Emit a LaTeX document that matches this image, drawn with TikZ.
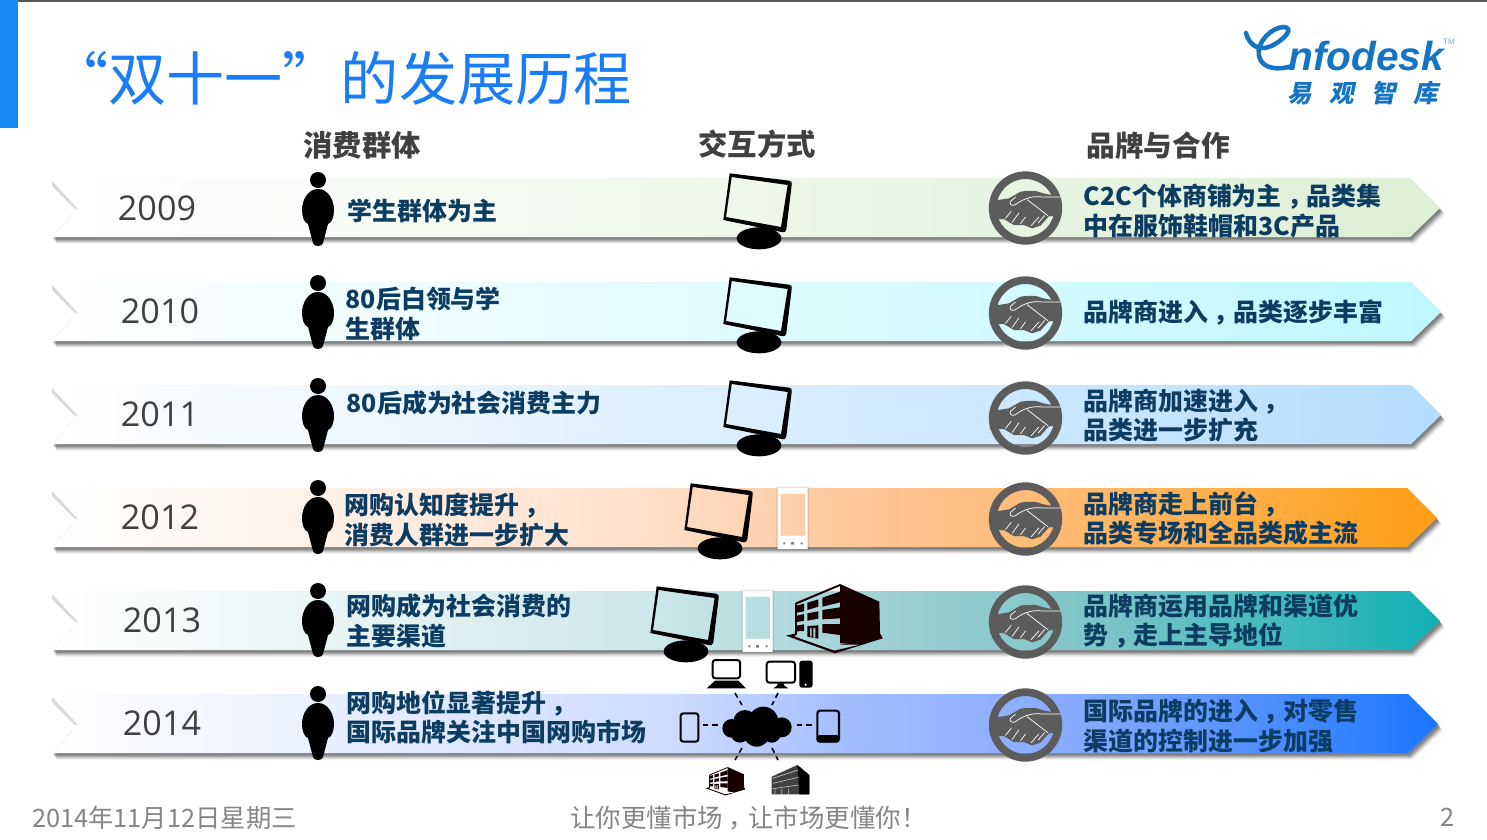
\documentclass[tikz,border=0pt]{standalone}
\usepackage{fontspec}
\setmainfont{Noto Sans CJK SC}
\newfontfamily\yearfont{Open Sans}
\newfontfamily\logofont{Liberation Sans}
\newfontfamily\cjkslant[FakeSlant=0.2]{Noto Sans CJK SC}
\definecolor{navy}{HTML}{0C3C62}
\definecolor{headgray}{HTML}{404040}
\definecolor{footgray}{HTML}{858585}
\definecolor{yeargray}{HTML}{404040}
\definecolor{ringgray}{HTML}{5C5C5C}
\definecolor{logoblue}{HTML}{1674C4}
\definecolor{titleblue}{HTML}{1A7DF5}
\pgfdeclarehorizontalshading{s2009}{100bp}{rgb(0bp)=(1,1,1);rgb(25bp)=(1,1,1);rgb(75bp)=(.867,.937,.835);rgb(100bp)=(.867,.937,.835)}
\pgfdeclarehorizontalshading{s2010}{100bp}{rgb(0bp)=(1,1,1);rgb(25bp)=(1,1,1);rgb(75bp)=(.75,.97,1);rgb(100bp)=(.75,.97,1)}
\pgfdeclarehorizontalshading{s2011}{100bp}{rgb(0bp)=(1,1,1);rgb(25bp)=(1,1,1);rgb(75bp)=(.71,.867,1);rgb(100bp)=(.71,.867,1)}
\pgfdeclarehorizontalshading{s2012}{100bp}{rgb(0bp)=(1,1,1);rgb(25bp)=(1,1,1);rgb(46.2bp)=(1,.88,.80);rgb(55.5bp)=(.99,.765,.57);rgb(62.8bp)=(1,.72,.41);rgb(75bp)=(1,.62,.08);rgb(100bp)=(1,.62,.08)}
\pgfdeclarehorizontalshading{s2013}{100bp}{rgb(0bp)=(1,1,1);rgb(25bp)=(1,1,1);rgb(46.2bp)=(.81,.91,.92);rgb(55.5bp)=(.61,.81,.83);rgb(62.8bp)=(.49,.77,.78);rgb(75bp)=(.06,.69,.71);rgb(100bp)=(.06,.69,.71)}
\pgfdeclarehorizontalshading{s2014}{100bp}{rgb(0bp)=(1,1,1);rgb(25bp)=(1,1,1);rgb(47.6bp)=(.80,.86,1);rgb(53.7bp)=(.64,.74,1);rgb(62.3bp)=(.52,.66,1);rgb(75bp)=(.10,.46,1);rgb(100bp)=(.10,.46,1)}
\newcommand\cc{\mbox{\kern.22em，\kern-.22em}}
\tikzset{
  lab/.style={anchor=west,inner sep=0pt,align=left,text=navy,font=\fontsize{18.7}{22}\selectfont\bfseries},
  head/.style={anchor=center,inner sep=0pt,text=headgray,font=\fontsize{22}{26}\selectfont\bfseries},
  year/.style={anchor=center,inner sep=0pt,text=yeargray,font=\yearfont\fontsize{25.6}{30}\selectfont},
  foot/.style={anchor=center,inner sep=0pt,text=footgray,font=\fontsize{19}{22}\selectfont},
  dashlink/.style={line width=1.2pt,dash pattern=on 4pt off 3pt,black},
  devline/.style={line width=1.5pt,black,rounded corners=2pt}
}
\newcommand\ribbon[3]{%row top, tip x, shading
  \foreach \i/\op in {7/.04,6/.07,5/.10,4/.13,3/.15,2/.12}{
    \fill[black,opacity=\op,shift={(\i*.7,\i)}] (52,#1) -- (#2-30,#1) -- (#2,#1+30) -- (#2-30,#1+59) -- (52,#1+59) -- cycle;}
  \fill[white] (40,#1-2) -- (52,#1-2) -- (78,#1+30) -- (52,#1+59) -- (40,#1+59) -- cycle;
  \fill[black!15] (52,#1+3) -- (77,#1+30) -- (75,#1+31) -- (52,#1+8) -- cycle;
  \shade[shading=#3] (52,#1) -- (#2-30,#1) -- (#2,#1+30) -- (#2-30,#1+59) -- (52,#1+59) -- (78,#1+30) -- cycle;
}
\newcommand\person[1]{%
  \begin{scope}[shift={(318,#1)}]
    \fill[black] (0,0) circle[radius=8];
    \fill[black] (0,9) .. controls (10,9) and (16,20) .. (16,30) .. controls (16,36) and (14,43) .. (10,44) -- (5,63) .. controls (4,67) and (-4,67) .. (-5,63) -- (-10,44) .. controls (-14,43) and (-16,36) .. (-16,30) .. controls (-16,20) and (-10,9) .. (0,9) -- cycle;
  \end{scope}}
\newcommand\monitor[2]{%x offset, row top
  \begin{scope}[shift={(#1,#2)},x=.25pt,y=-.25pt,shift={(0,-54)}]
    \fill[black] (240,235) ellipse[x radius=67,y radius=33];
    \fill[black,even odd rule] (152,40) -- (330,62) .. controls (338,63) and (339,68) .. (338,75) -- (322,208) .. controls (321,216) and (315,219) .. (308,216) -- (133,180) -- cycle (158,51) -- (326,75) -- (306,201) -- (141,171) -- cycle;
  \end{scope}}
\newcommand\phone[2]{%x offset, row top
  \begin{scope}[shift={(#1,#2)},x=.25pt,y=-.25pt,shift={(0,-54)}]
    \fill[black,opacity=.10,even odd rule] (409,50) rectangle (507,241) (422,71) rectangle (495,197);
    \fill[white,even odd rule] (413,54) rectangle (503,237) (422,71) rectangle (495,197);
    \draw[white,line width=.5pt,dash pattern=on .8pt off .8pt] (422,69) -- (495,69) (422,199) -- (495,199);
    \fill[gray] (430,217) rectangle (436,223) (453,216) rectangle (462,224) (482,217) rectangle (488,223);
  \end{scope}}
\newcommand\bldg[4]{%x, y, unit, colour
  \begin{scope}[shift={(#1,#2)},x=#3,y=-#3,shift={(-438,-342)}]
    \fill[#4] (600,342) -- (718,395) -- (720,490) -- (728,505) -- (655,520) -- (600,520) -- cycle;
    \fill[#4,even odd rule] (438,497) -- (585,550) -- (728,505) -- (722,494) -- (600,524) -- (660,524) -- (583,542) -- (465,500) -- (468,490) -- cycle;
    \fill[#4] (468,397) -- (600,342) -- (600,348) -- (470,403) -- cycle;
    \fill[#4] (470,407) -- (492,401) -- (492,424) -- (470,428) -- cycle
              (502,398) -- (535,388) -- (535,410) -- (502,420) -- cycle
              (547,383) -- (600,365) -- (600,397) -- (547,410) -- cycle
              (470,437) -- (492,432) -- (492,452) -- (470,456) -- cycle
              (502,430) -- (535,424) -- (535,446) -- (502,452) -- cycle
              (547,420) -- (600,412) -- (600,445) -- (547,448) -- cycle
              (470,467) -- (492,463) -- (492,483) -- (470,484) -- cycle
              (547,462) -- (600,462) -- (600,495) -- (547,488) -- cycle;
    \fill[#4,even odd rule] (502,468) -- (535,466) -- (535,506) -- (502,500) -- cycle (510,474) -- (515,474) -- (515,500) -- (510,500) -- cycle (520,474) -- (526,474) -- (526,503) -- (520,503) -- cycle;
    \fill[#4] (466,400) rectangle (470,495);
  \end{scope}}
\newcommand\handshake[1]{%row centre y
  \begin{scope}[shift={(1025.5,#1)},x=.25pt,y=-.25pt,shift={(-165,-145)}]
    \fill[ringgray,even odd rule] (165,145) circle[radius=110] (165,145) circle[radius=87];
    \fill[ringgray] (58,125) -- (115,116) -- (150,96) .. controls (175,92) and (200,92) .. (215,100) -- (272,112) -- (272,168) -- (235,170) -- (210,198) -- (185,206) -- (160,196) -- (130,196) -- (100,178) -- (58,178) -- cycle;
    \draw[white,line width=.55pt,line join=round] (272,112) -- (215,112) .. controls (190,108) and (160,115) .. (135,135) .. controls (125,140) and (115,135) .. (120,125) -- (135,112);
    \draw[white,line width=.55pt,line cap=round] (170,120) -- (232,168) (105,176) -- (122,155) (125,188) -- (145,160) (150,192) -- (165,172) (182,198) -- (205,172) (203,190) -- (222,168);
  \end{scope}}
\begin{document}
\begin{tikzpicture}[x=.75pt,y=-.75pt]
\useasboundingbox (0,0) rectangle (1487,839);
\fill[white] (0,0) rectangle (1487,839);
\fill[black!65] (0,0) rectangle (1487,1.5);
\fill[titleblue!90!cyan] (0,0) rectangle (18,128);
\node[anchor=west,inner sep=0pt,text=titleblue,font=\fontsize{43.6}{50}\selectfont] (title) at (50,78) {“双十一”的发展历程};
% logo
\draw[logoblue,line width=3.4pt,line cap=round] (1246,33) .. controls (1250,48) and (1262,52) .. (1275,44) .. controls (1287,37) and (1293,28) .. (1284,27) .. controls (1272,27) and (1256,42) .. (1259,56) .. controls (1262,70) and (1280,70) .. (1292,66);
\node[anchor=base west,inner sep=0pt,text=logoblue,font=\logofont\fontsize{30.4}{34}\selectfont\bfseries\itshape] (logotext) at (1288,70) {nfodesk};
\node[anchor=center,inner sep=0pt,text=logoblue!60!white,font=\logofont\fontsize{6}{6}\selectfont] (tm) at (1449,42) {TM};
\node[anchor=west,inner sep=0pt,text=logoblue,font=\cjkslant\fontsize{18.5}{22}\selectfont\bfseries] (logocn) at (1287,93) {易\hspace{13pt}观\hspace{13pt}智\hspace{13pt}库};
% headers
\node[head] (h1) at (362,145) {消费群体};
\node[head] (h2) at (757,144) {交互方式};
\node[head,font=\fontsize{21.5}{26}\selectfont\bfseries] (h3) at (1158,145.5) {品牌与合作};
% ribbons
\ribbon{178}{1440}{s2009}
\ribbon{282}{1441}{s2010}
\ribbon{385}{1441}{s2011}
\ribbon{488}{1437}{s2012}
\ribbon{591}{1440}{s2013}
\ribbon{694}{1438}{s2014}
% years
\node[year] (y09) at (157,208) {2009};
\node[year] (y10) at (160,311) {2010};
\node[year] (y11) at (160,414) {2011};
\node[year] (y12) at (160,517) {2012};
\node[year] (y13) at (162,620) {2013};
\node[year] (y14) at (162,723) {2014};
% persons
\foreach \y in {180,283,386,488,591,694}{\person{\y}}
% left labels
\node[lab] (a09) at (347.5,211) {学生群体为主};
\node[lab] (a10) at (345.5,314) {80后白领与学\\生群体};
\node[lab] (a11) at (346.5,403) {80后成为社会消费主力};
\node[lab] (a12) at (344.5,520) {网购认知度提升\cc\\消费人群进一步扩大};
\node[lab] (a13) at (346.5,621) {网购成为社会消费的\\主要渠道};
\node[lab] (a14) at (346.5,717) {网购地位显著提升\cc\\国际品牌关注中国网购市场};
% monitors & phones
\monitor{679}{178}
\monitor{679}{282}
\monitor{679}{385}
\monitor{640}{488}
\phone{640}{488}
\monitor{606}{591}
\phone{605}{591}
\bldg{786}{584}{.25pt}{black!90!red}
% handshakes
\foreach \y in {208,313,418,519,622,725}{\handshake{\y}}
% right labels
\node[lab] (b09) at (1083.5,211) {C2C个体商铺为主\cc 品类集\\中在服饰鞋帽和3C产品};
\node[lab] (b10) at (1083.5,313) {品牌商进入\cc 品类逐步丰富};
\node[lab] (b11) at (1083.5,415.5) {品牌商加速进入\cc\\品类进一步扩充};
\node[lab] (b12) at (1083.5,518.5) {品牌商走上前台\cc\\品类专场和全品类成主流};
\node[lab] (b13) at (1083.5,621) {品牌商运用品牌和渠道优\\势\cc 走上主导地位};
\node[lab] (b14) at (1083.5,726) {国际品牌的进入\cc 对零售\\渠道的控制进一步加强};
% network
\coordinate (c1a) at (735,693); \coordinate (c1b) at (742,705);
\coordinate (c2a) at (778,693); \coordinate (c2b) at (772,705);
\coordinate (c3a) at (703,725); \coordinate (c3b) at (718,725);
\coordinate (c4a) at (797,725); \coordinate (c4b) at (812,725);
\coordinate (c5a) at (742,748); \coordinate (c5b) at (735,760);
\coordinate (c6a) at (772,748); \coordinate (c6b) at (778,760);
\foreach \p in {1,...,6}{\draw[dashlink] (c\p a) -- (c\p b);}
% cloud
\begin{scope}[shift={(660,650)},x=.25pt,y=-.25pt]
  \fill[black] (215,235) circle[radius=28] (255,215) circle[radius=35] (310,215) circle[radius=45] (365,232) circle[radius=30] (290,250) circle[radius=40] (240,250) circle[radius=28] (335,250) circle[radius=28];
  % laptop
  \draw[devline] (158,30) rectangle (240,85);
  \fill[black] (165,92) -- (235,92) -- (258,115) -- (140,115) -- cycle;
  % desktop
  \draw[devline] (320,35) rectangle (405,98);
  \fill[black] (352,100) -- (372,100) -- (372,106) -- (385,115) -- (340,115) -- (352,106) -- cycle;
  \fill[black,rounded corners=2pt] (418,32) rectangle (458,113);
  \fill[white] (437,104) circle[radius=3.5];
  % phone
  \draw[devline,line width=1.6pt] (62,190) rectangle (115,275);
  % tablet
  \draw[devline,line width=1.6pt] (472,182) rectangle (537,275);
  \fill[black,rounded corners=2pt] (472,255) rectangle (537,277);
\end{scope}
\bldg{705.5}{767}{.1025pt}{black!90!red}
% grey building
\begin{scope}[shift={(660,650)},x=.25pt,y=-.25pt]
  \fill[black!75] (335,380) -- (412,345) -- (448,375) -- (448,433) -- (335,433) -- cycle;
  \fill[black] (412,345) -- (448,375) -- (448,433) -- (418,433) -- cycle;
  \draw[white!75!black,line width=.5pt] (338,385) -- (415,360) (338,400) -- (415,382) (338,416) -- (415,405) (345,418) -- (345,433) (365,418) -- (365,433) (385,416) -- (385,433);
\end{scope}
% footer
\node[foot] (f1) at (164.5,818) {2014年11月12日星期三};
\node[foot,font=\fontsize{19.1}{22}\selectfont] (f2) at (748.5,818) {让你更懂市场\cc 让市场更懂你！};
\node[foot] (f3) at (1448,817) {2};
\end{tikzpicture}
\end{document}
